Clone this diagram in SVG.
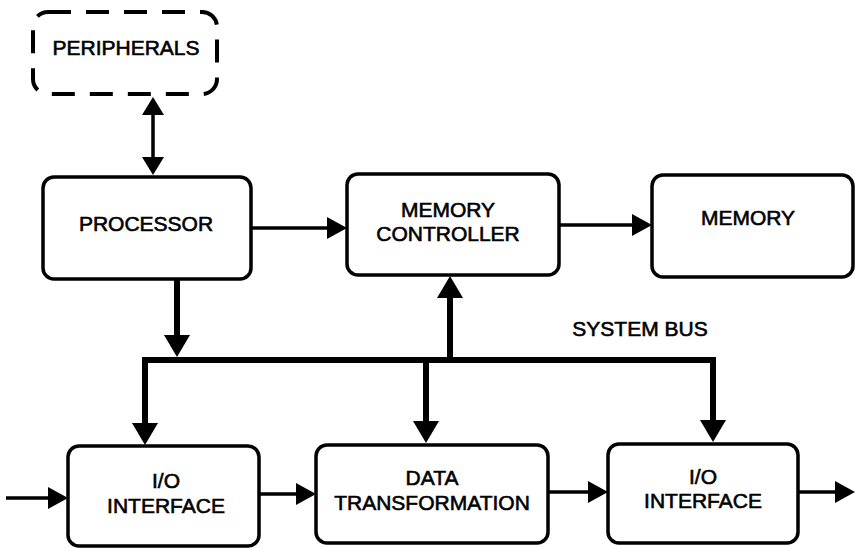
<svg xmlns="http://www.w3.org/2000/svg" width="855" height="548" viewBox="0 0 855 548">
<defs>
<style>
.box{fill:#fff;stroke:#000;stroke-width:3.5}
.dash{fill:none;stroke:#000;stroke-width:4;stroke-dasharray:23 15}
.t{font-family:"Liberation Sans",Arial,Helvetica,sans-serif;font-size:21px;fill:#000;stroke:#000;stroke-width:0.6;text-anchor:middle}
.thin{fill:none;stroke:#000;stroke-width:3.5}
.bus{fill:none;stroke:#000;stroke-width:6}
</style>
<marker id="ah" markerUnits="userSpaceOnUse" markerWidth="20" markerHeight="22" viewBox="0 0 20 22" refX="14" refY="11" orient="auto"><path d="M0,0 L20,11 L0,22 z" fill="#000"/></marker>
<marker id="ab" markerUnits="userSpaceOnUse" markerWidth="22" markerHeight="26" viewBox="0 0 22 26" refX="14" refY="13" orient="auto"><path d="M0,0 L22,13 L0,26 z" fill="#000"/></marker>
<marker id="ap" markerUnits="userSpaceOnUse" markerWidth="18" markerHeight="22" viewBox="0 0 18 22" refX="12" refY="11" orient="auto-start-reverse"><path d="M0,0 L18,11 L0,22 z" fill="#000"/></marker>
</defs>

<g id="connectors">
<path class="thin" d="M153,103 V169" stroke-width="4" marker-start="url(#ap)" marker-end="url(#ap)"/>
<path class="thin" d="M251,228 H341" marker-end="url(#ah)"/>
<path class="thin" d="M559,225 H646" marker-end="url(#ah)"/>
<path class="bus" d="M177,279 V349" marker-end="url(#ab)"/>
<path class="bus" d="M142,360 H716"/>
<path class="bus" d="M145,357 V437" marker-end="url(#ab)"/>
<path class="bus" d="M426,357 V435" marker-end="url(#ab)"/>
<path class="bus" d="M713,357 V434" marker-end="url(#ab)"/>
<path class="bus" d="M450,363 V284" marker-end="url(#ab)"/>
<path class="thin" d="M6,498 H62" marker-end="url(#ah)"/>
<path class="thin" d="M259,494 H310" marker-end="url(#ah)"/>
<path class="thin" d="M548,492 H602" marker-end="url(#ah)"/>
<path class="thin" d="M798,492 H849" marker-end="url(#ah)"/>
</g>

<g id="peripherals">
<rect class="dash" x="33" y="12" width="184" height="82" rx="15"/>
<text class="t" x="126" y="55">PERIPHERALS</text>
</g>
<g id="processor">
<rect class="box" x="43" y="177" width="208" height="102" rx="11"/>
<text class="t" x="146" y="231">PROCESSOR</text>
</g>
<g id="memory-controller">
<rect class="box" x="347" y="174" width="212" height="101" rx="11"/>
<text class="t" x="448" y="217">MEMORY</text>
<text class="t" x="448" y="241">CONTROLLER</text>
</g>
<g id="memory">
<rect class="box" x="652" y="175" width="201" height="102" rx="11"/>
<text class="t" x="748" y="225">MEMORY</text>
</g>
<g id="system-bus-label">
<text class="t" x="640" y="336">SYSTEM BUS</text>
</g>
<g id="io-interface-1">
<rect class="box" x="68" y="446" width="191" height="100" rx="11"/>
<text class="t" x="166" y="488">I/O</text>
<text class="t" x="166" y="513">INTERFACE</text>
</g>
<g id="data-transformation">
<rect class="box" x="316" y="445" width="232" height="98" rx="11"/>
<text class="t" x="432" y="485">DATA</text>
<text class="t" x="432" y="510">TRANSFORMATION</text>
</g>
<g id="io-interface-2">
<rect class="box" x="608" y="444" width="190" height="99" rx="11"/>
<text class="t" x="703" y="484">I/O</text>
<text class="t" x="703" y="508">INTERFACE</text>
</g>
</svg>
